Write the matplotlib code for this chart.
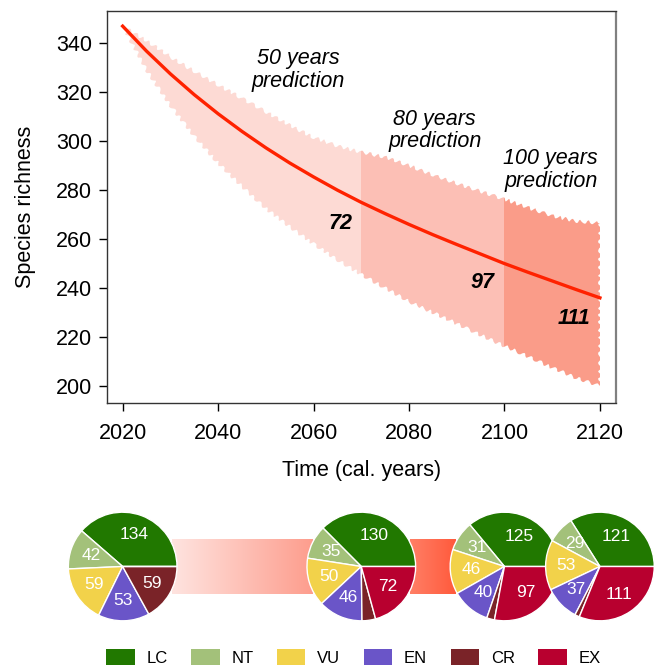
import numpy as np
import matplotlib.pyplot as plt
from matplotlib.colors import LinearSegmentedColormap
from matplotlib.patches import Patch, Rectangle

plt.rcParams['font.family'] = ['Liberation Sans', 'DejaVu Sans']

years = [2020, 2025, 2030, 2035, 2040, 2045, 2050, 2055, 2060, 2065, 2070,
         2075, 2080, 2085, 2090, 2095, 2100, 2105, 2110, 2115, 2120]
richness = [347, 336.8, 327.5, 319, 311.2, 304, 297.3, 291.1, 285.4, 280, 275,
            270.4, 266, 261.8, 257.8, 253.9, 250, 246.4, 242.9, 239.4, 236]
upper = [347, 341, 334.5, 328.5, 323, 317.5, 312, 306.5, 301.5, 298, 295.5,
         293.5, 290, 286.2, 282.7, 279.5, 276.3, 272.8, 269.5, 267.3, 266.5]
lower = [347, 329, 314.5, 302, 291, 281.5, 272.5, 265, 258, 251.5, 245.5,
         240, 234.5, 230, 225.5, 220.8, 216.3, 212, 207.5, 203.3, 200]

periods = [(2020, 2070), (2070, 2100), (2100, 2120)]
period_text = ['50 years\nprediction', '80 years\nprediction', '100 years\nprediction']
lost = ['72', '97', '111']

categories = ['LC', 'NT', 'VU', 'EN', 'CR', 'EX']
pie_years = [2020, 2070, 2100, 2120]
counts_2020 = [134, 42, 59, 53, 59, 0]
counts_2070 = [130, 35, 50, 46, 14, 72]
counts_2100 = [125, 31, 46, 40, 8, 97]
counts_2120 = [121, 29, 53, 37, 5, 111]

cat_colors = ['#217800', '#a3c17a', '#f2d24a', '#6a55c8', '#7a2328', '#b8002f']
band_colors = ['#fddad4', '#fcbfb5', '#fa9c89']

fig = plt.figure(figsize=(6.54, 6.66), dpi=100)
ax = fig.add_axes([0.1631, 0.3944, 0.7783, 0.5895])

# one ragged envelope, cut into the three prediction blocks by clipping
xs = np.concatenate([years, years[::-1]])
ys = np.concatenate([upper, lower[::-1]])
for (a, b), c in zip(periods, band_colors):
    poly = ax.fill(xs, ys, color=c, lw=0, zorder=1)[0]
    poly.set_sketch_params(1.8, 9, 2)
    clip = Rectangle((a, 150), b - a, 250, transform=ax.transData)
    poly.set_clip_path(clip)

ax.plot(years, richness, color='#ff2200', lw=2.4, zorder=3)

txt_pos = [(2056.7, 329.1), (2085.4, 304.4), (2109.7, 288.2)]
for (x, y), t in zip(txt_pos, period_text):
    ax.text(x, y, t, ha='center', va='center', style='italic', fontsize=15.5,
            linespacing=1.1)
num_pos = [(2065.7, 266.3), (2095.5, 242.2), (2114.6, 227.5)]
for (x, y), t in zip(num_pos, lost):
    ax.text(x, y, t, ha='center', va='center', style='italic', weight='bold',
            fontsize=15.5, zorder=4)

ax.set_xlim(2016.65, 2123.3)
ax.set_ylim(192.9, 353.3)
ax.set_xticks(range(2020, 2121, 20))
ax.set_yticks(range(200, 341, 20))
ax.tick_params(axis='both', labelsize=15.5, length=6, width=1, direction='out')
ax.tick_params(axis='x', pad=8)
ax.tick_params(axis='y', pad=4.5)
ax.set_xlabel('Time (cal. years)', fontsize=15.5, labelpad=12)
ax.set_ylabel('Species richness', fontsize=15.5, labelpad=14)
for s in ['left', 'bottom', 'top']:
    ax.spines[s].set_color('#333333')
    ax.spines[s].set_linewidth(1.0)
ax.spines['right'].set_color('#808080')
ax.spines['right'].set_linewidth(1.6)
ax.spines['right'].set_capstyle('butt')

# pie row, same x scale as the main axes
pax = fig.add_axes([0.1631, 0.04955, 0.7783, 0.1997])
r = 11.38
grad = np.linspace(0, 1, 256).reshape(1, -1)
g1 = LinearSegmentedColormap.from_list('g1', ['#ffe4e0', '#fd9d8d'])
g2 = LinearSegmentedColormap.from_list('g2', ['#ff7f66', '#ff5a3c'])
pax.imshow(grad, cmap=g1, aspect='auto', zorder=0,
           extent=[pie_years[0] + 0.9 * r, pie_years[1] - 0.9 * r, -5.7, 5.7])
pax.imshow(grad, cmap=g2, aspect='auto', zorder=0,
           extent=[pie_years[1] + 0.9 * r, pie_years[2] - 0.9 * r, -5.7, 5.7])

all_counts = [counts_2020, counts_2070, counts_2100, counts_2120]
for k, (yr, cnt) in enumerate(zip(pie_years, all_counts)):
    wedges, _ = pax.pie(cnt, colors=cat_colors, center=(yr, 0), radius=r,
                        startangle=0, counterclock=True, frame=True,
                        wedgeprops=dict(edgecolor='white', linewidth=1))
    for w in wedges:
        w.set_clip_on(False)
        w.set_zorder(2 + k)
    for w, v in zip(wedges, cnt):
        if v < 20:
            continue
        ang = np.deg2rad((w.theta1 + w.theta2) / 2)
        pax.text(yr + 0.62 * r * np.cos(ang), 0.62 * r * np.sin(ang), str(v),
                 ha='center', va='center', color='white', fontsize=12.5,
                 zorder=2 + k, clip_on=False)

pax.set_aspect('auto')
pax.set_xlim(2016.65, 2123.3)
pax.set_ylim(-13.934, 13.934)
pax.axis('off')

handles = [Patch(facecolor=c, label=l) for c, l in zip(cat_colors, categories)]
fig.legend(handles=handles, loc='center', bbox_to_anchor=(0.5405, 0.0125), ncol=6,
           frameon=False, fontsize=12, handlelength=1.7, handleheight=1.1,
           handletextpad=0.7, columnspacing=1.42)

fig.savefig('out.png', dpi=100)
